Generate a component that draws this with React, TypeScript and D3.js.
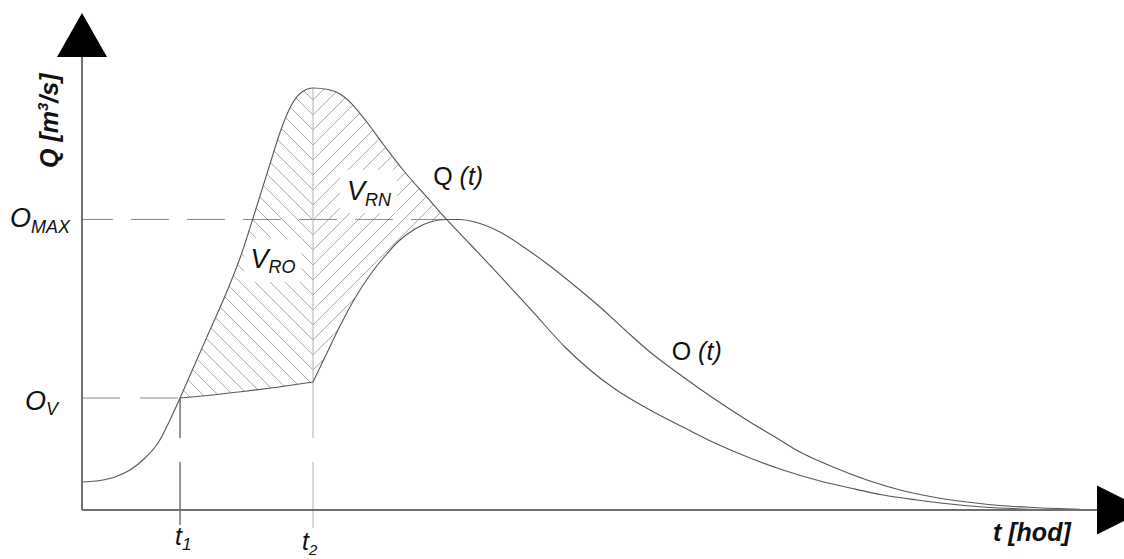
import React, { useMemo } from "react";
import * as d3 from "d3";

const svgWidth = 1124;
const svgHeight = 559;
const font = "'Liberation Sans', Arial, sans-serif";

// inflow hydrograph Q(t), t in % of the plotted time span, Q in % of the axis
const inflowT = [0, 1.77, 3.25, 4.73, 6.21, 7.49, 8.67, 9.66, 11.13, 12.61, 14.09, 15.57, 17.04, 18.52, 19.7, 20.69, 21.67, 22.76, 24.24, 25.42, 26.6, 27.98, 29.66, 31.63, 33.79, 35.96, 38.23, 41.18, 44.43, 47.68, 50.05, 52.51, 55.96, 59.21, 62.56, 65.81, 69.06, 72.71, 75.67, 78.92, 82.27, 85.52, 88.77, 94.38];
const inflowQ = [6.18, 6.51, 7.28, 8.83, 11.48, 14.79, 19.87, 24.72, 32.23, 39.74, 47.24, 55.63, 65.78, 76.38, 84.55, 89.62, 92.27, 93.16, 92.83, 91.83, 89.62, 85.87, 80.79, 75.06, 69.54, 64.02, 58.72, 51.66, 43.71, 35.76, 30.91, 26.71, 22.08, 18.32, 14.57, 11.48, 8.83, 6.4, 4.86, 3.31, 2.21, 1.32, 0.66, 0.11];

// outflow O(t) while the reservoir retains water (t1 -> t2)
const retainT = [9.66, 12.61, 15.86, 19.21, 22.76];
const retainQ = [24.72, 25.34, 26.16, 27.11, 28.26];

// outflow O(t) after t2
const releaseT = [22.76, 23.94, 25.42, 26.9, 28.37, 29.85, 31.33, 32.81, 34.29, 35.96, 37.24, 38.72, 41.18, 43.65, 46.11, 48.57, 51.03, 53.5, 55.96, 58.42, 60.89, 63.35, 65.81, 68.28, 70.74, 73.99, 77.34, 80.59, 83.84, 87.19, 90.44, 93.69, 98.33];
const releaseQ = [28.26, 33.77, 40.62, 46.8, 51.88, 56.07, 59.6, 62.03, 63.58, 64.13, 64.13, 63.58, 61.37, 57.84, 53.86, 49.45, 44.81, 39.74, 34.88, 30.68, 26.71, 22.96, 19.43, 16.11, 12.8, 9.49, 6.62, 4.42, 2.87, 1.77, 0.99, 0.55, 0.15];

const t1 = 9.66;
const t2 = 22.76;
const tCross = 35.96;
const oV = 24.72;
const oMax = 64.13;

const hatchStep = 15;

export default function App() {
  const x = d3.scaleLinear().domain([0, 100]).range([82, 1097]);
  const y = d3.scaleLinear().domain([0, 100]).range([510, 57]);

  const paths = useMemo(() => {
    const line = d3
      .line<[number, number]>()
      .x((d) => x(d[0]))
      .y((d) => y(d[1]))
      .curve(d3.curveMonotoneX);
    const inflow = d3.zip(inflowT, inflowQ) as [number, number][];
    const retain = d3.zip(retainT, retainQ) as [number, number][];
    const release = d3.zip(releaseT, releaseQ) as [number, number][];
    const pre = inflow.filter((d) => d[0] <= t1);

    const qPath = line(inflow) as string;
    const oPath =
      (line(retain) as string) + (line(release) as string).replace(/^M/, "L");
    const oFull =
      (line(pre) as string) +
      (line(retain) as string).replace(/^M/, "L") +
      (line(release) as string).replace(/^M/, "L");

    const belowQ =
      qPath +
      `L${x(inflowT[inflowT.length - 1])},${svgHeight}L${x(0)},${svgHeight}Z`;
    const aboveO =
      oFull + `L${x(releaseT[releaseT.length - 1])},0L${x(0)},0Z`;
    return { qPath, oPath, belowQ, aboveO };
  }, []);

  const x1 = x(t1);
  const x2 = x(t2);
  const peakY = y(d3.max(inflowQ) as number);
  const vertex0 = peakY + 27;
  const ks = d3.range(-3, 42);
  const baseY = y(0);
  const topY = y(100);

  const subLabel = (
    main: string,
    sub: string,
    px: number,
    py: number,
    size: number,
    subSize: number,
    anchor: string = "start"
  ) => (
    <text
      x={px}
      y={py}
      fontSize={size}
      fontStyle="italic"
      textAnchor={anchor}
      fill="#111"
    >
      {main}
      <tspan fontSize={subSize} dy={subSize * 0.3}>
        {sub}
      </tspan>
    </text>
  );

  const vro = { x: x(16.6), y: y(53.4) };
  const vrn = { x: x(26.1), y: y(68.4) };

  return (
    <svg
      width={svgWidth}
      height={svgHeight}
      style={{ position: "absolute", left: 0, top: 0, background: "#fff" }}
      fontFamily={font}
    >
      <defs>
        <clipPath id="belowQ">
          <path d={paths.belowQ} />
        </clipPath>
        <clipPath id="aboveO">
          <path d={paths.aboveO} />
        </clipPath>
        <clipPath id="leftBand">
          <rect x={x1} y={0} width={x2 - x1} height={svgHeight} />
        </clipPath>
        <clipPath id="rightBand">
          <rect x={x2} y={0} width={x(tCross) + 30 - x2} height={svgHeight} />
        </clipPath>
      </defs>

      {/* hatching of the retained volumes */}
      <g clipPath="url(#belowQ)">
        <g clipPath="url(#aboveO)">
          <g clipPath="url(#leftBand)" stroke="#9a9a9a" strokeWidth={0.85}>
            {ks.map((k) => {
              const vy = vertex0 + k * hatchStep;
              return (
                <line key={`l${k}`} x1={x2 - 450} y1={vy - 450} x2={x2} y2={vy} />
              );
            })}
          </g>
          <g clipPath="url(#rightBand)" stroke="#9a9a9a" strokeWidth={0.85}>
            {ks.map((k) => {
              const vy = vertex0 + k * hatchStep;
              return (
                <line key={`r${k}`} x1={x2} y1={vy} x2={x2 + 450} y2={vy - 450} />
              );
            })}
          </g>
        </g>
      </g>
      <rect x={vro.x - 6} y={vro.y - 30} width={57} height={44} fill="#fff" />
      <rect x={vrn.x - 7} y={vrn.y - 30} width={57} height={43} fill="#fff" />

      {/* guide lines */}
      <line
        x1={x(0)}
        x2={x(tCross)}
        y1={y(oMax)}
        y2={y(oMax)}
        stroke="#8a8a8a"
        strokeWidth={1}
        strokeDasharray="38 18"
        strokeDashoffset={7}
      />
      <line
        x1={x(0)}
        x2={x1}
        y1={y(oV)}
        y2={y(oV)}
        stroke="#8a8a8a"
        strokeWidth={1.2}
        strokeDasharray="38 20"
      />
      <line
        x1={x1}
        x2={x1}
        y1={y(oV)}
        y2={baseY + 15}
        stroke="#6a6a6a"
        strokeWidth={1.4}
        strokeDasharray="40 24 70"
      />
      <line x1={x2} x2={x2} y1={peakY} y2={y(retainQ[retainQ.length - 1])} stroke="#b0b0b0" strokeWidth={1} />
      <line
        x1={x2}
        x2={x2}
        y1={y(retainQ[retainQ.length - 1])}
        y2={baseY + 18}
        stroke="#b0b0b0"
        strokeWidth={1}
        strokeDasharray="56 24 70"
      />

      {/* hydrographs */}
      <path d={paths.qPath} fill="none" stroke="#555" strokeWidth={1.1} />
      <path d={paths.oPath} fill="none" stroke="#555" strokeWidth={1.1} />

      {/* axes */}
      <line x1={x(0)} x2={x(0)} y1={topY} y2={baseY} stroke="#707070" strokeWidth={2} />
      <line x1={x(0)} x2={x(100)} y1={baseY} y2={baseY} stroke="#707070" strokeWidth={2} />
      <path
        d={`M${x(0)},${topY - 44}L${x(0) + 25},${topY}L${x(0) - 25},${topY}Z`}
        fill="#000"
      />
      <path
        d={`M${x(100) + 49},${baseY}L${x(100)},${baseY - 24.5}L${x(100)},${baseY + 24.5}Z`}
        fill="#000"
      />

      {/* axis titles */}
      <text
        transform={`translate(58,${y(0) - 342}) rotate(-90)`}
        fontSize={25}
        fontWeight="bold"
        fontStyle="italic"
        fill="#111"
      >
        Q [m
        <tspan fontSize={15} dy={-10}>
          3
        </tspan>
        <tspan dy={10}>/s]</tspan>
      </text>
      <text
        x={993}
        y={baseY + 31}
        fontSize={25}
        fontWeight="bold"
        fontStyle="italic"
        fill="#111"
      >
        t [hod]
      </text>

      {/* annotations */}
      {subLabel("O", "MAX", x(0) - 12, y(oMax) + 8, 27, 18, "end")}
      {subLabel("O", "V", x(0) - 24, y(oV) + 12, 27, 18, "end")}
      {subLabel("V", "RO", vro.x, vro.y, 27, 18)}
      {subLabel("V", "RN", vrn.x, vrn.y, 27, 18)}
      {subLabel("t", "1", x1 - 5, baseY + 35, 25, 17)}
      {subLabel("t", "2", x2 - 11, baseY + 40, 25, 15)}
      <text x={x(34.6)} y={y(71.7)} fontSize={25} fill="#111">
        Q <tspan fontStyle="italic">(t)</tspan>
      </text>
      <text x={x(58.1)} y={y(33.1)} fontSize={25} fill="#111">
        O <tspan fontStyle="italic">(t)</tspan>
      </text>
    </svg>
  );
}
